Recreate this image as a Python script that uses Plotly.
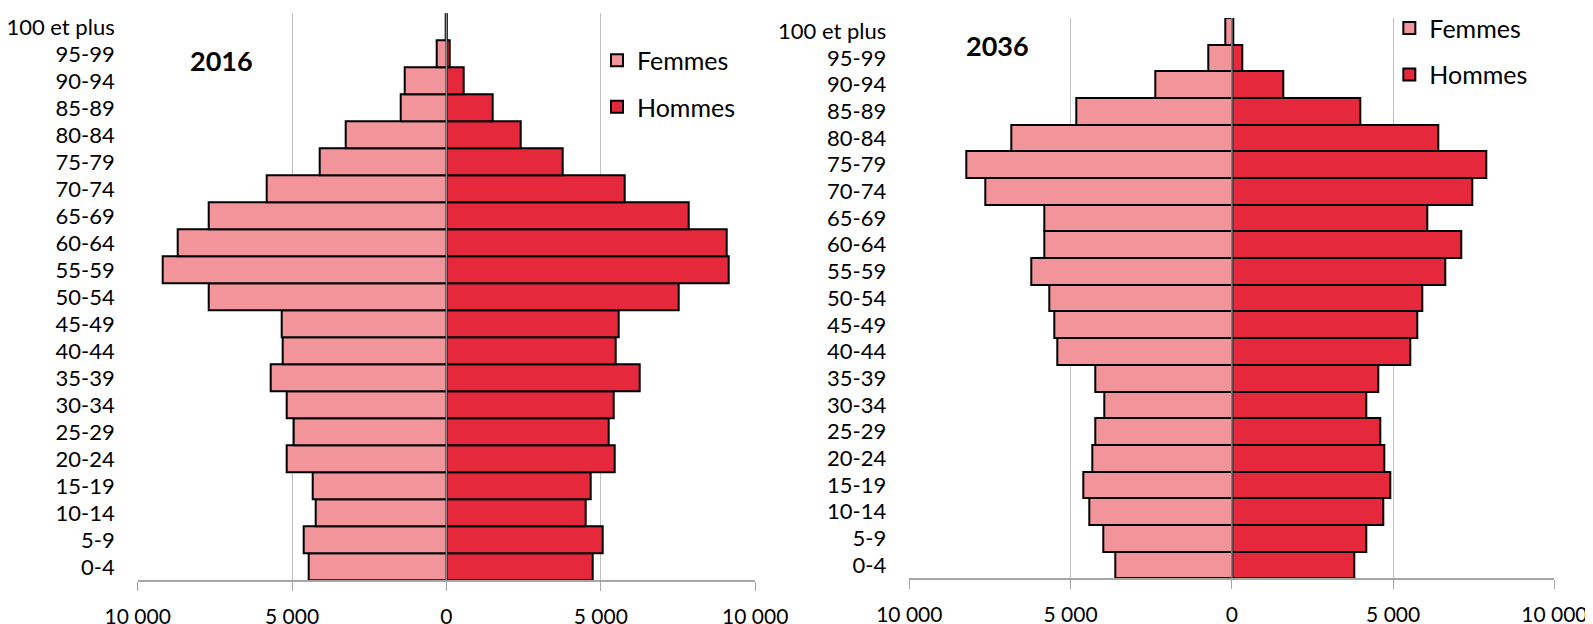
import plotly.graph_objects as go

ages = ["0-4", "5-9", "10-14", "15-19", "20-24", "25-29", "30-34", "35-39", "40-44",
        "45-49", "50-54", "55-59", "60-64", "65-69", "70-74", "75-79", "80-84",
        "85-89", "90-94", "95-99", "100 et plus"]

femmes_2016 = [4470, 4620, 4250, 4340, 5170, 4950, 5160, 5690, 5300, 5330, 7700,
               9200, 8700, 7690, 5830, 4120, 3250, 1480, 1360, 310, 30]
hommes_2016 = [4730, 5050, 4500, 4660, 5440, 5270, 5420, 6270, 5480, 5590, 7520,
               9130, 9090, 7840, 5770, 3780, 2410, 1500, 560, 100, 20]

femmes_2036 = [3620, 3990, 4430, 4610, 4330, 4220, 3950, 4230, 5400, 5500, 5650,
               6210, 5800, 5820, 7640, 8220, 6840, 4810, 2370, 720, 190]
hommes_2036 = [3790, 4170, 4700, 4910, 4730, 4610, 4170, 4530, 5520, 5750, 5900,
               6610, 7100, 6060, 7460, 7880, 6410, 3990, 1580, 330, 30]

tick_vals = [-10000, -5000, 0, 5000, 10000]
tick_text = ["10 000", "5 000", "0", "5 000", "10 000"]
years = ["2016", "2036"]

C_F = "#F1959B"
C_H = "#E6283C"
FONT = "Lato"
W, H = 1585, 616

fig = go.Figure()

def add_pair(fem, hom, xa, ya, leg):
    fig.add_trace(go.Bar(y=ages, x=[-v for v in fem], orientation="h", name="Femmes",
                         marker=dict(color=C_F, line=dict(color="black", width=2)),
                         xaxis=xa, yaxis=ya, legend=leg, legendgroup=leg + "f"))
    fig.add_trace(go.Bar(y=ages, x=hom, orientation="h", name="Hommes",
                         marker=dict(color=C_H, line=dict(color="black", width=2)),
                         xaxis=xa, yaxis=ya, legend=leg, legendgroup=leg + "h"))

add_pair(femmes_2016, hommes_2016, "x", "y", "legend")
add_pair(femmes_2036, hommes_2036, "x2", "y2", "legend2")

xcommon = dict(range=[-10000, 10000], tickvals=tick_vals, ticktext=tick_text,
               showgrid=True, gridcolor="#BFBFBF", gridwidth=1, zeroline=False,
               showline=True, linecolor="#A6A6A6", linewidth=1.5,
               ticks="outside", ticklen=9, tickcolor="#A6A6A6",
               ticklabelstandoff=8, automargin=False,
               tickfont=dict(family=FONT, size=21, color="black"), fixedrange=True)
ycommon = dict(type="category", categoryorder="array", categoryarray=ages,
               range=[-0.5, 20.5], showgrid=False, zeroline=False, showline=False,
               ticks="", ticklabelstandoff=22, automargin=False,
               tickfont=dict(family=FONT, size=22, color="black"), fixedrange=True)

fig.update_layout(
    template="none",
    width=W, height=H,
    margin=dict(l=0, r=0, t=0, b=0, autoexpand=False),
    paper_bgcolor="white", plot_bgcolor="white",
    barmode="relative", bargap=0,
    font=dict(family=FONT, size=22, color="black"),
    xaxis=dict(domain=[0.08183, 0.47142], anchor="y", **xcommon),
    yaxis=dict(domain=[0.07062, 0.99140], anchor="x", **ycommon),
    xaxis2=dict(domain=[0.56864, 0.97565], anchor="y2", **xcommon),
    yaxis2=dict(domain=[0.07419, 0.98377], anchor="x2", **ycommon),
    legend=dict(x=0.3716, y=0.9520, xanchor="left", yanchor="top",
                font=dict(family=FONT, size=25, color="black"),
                tracegroupgap=11, traceorder="grouped", bgcolor="rgba(0,0,0,0)",
                itemwidth=30),
    legend2=dict(x=0.8715, y=1.0045, xanchor="left", yanchor="top",
                 font=dict(family=FONT, size=25, color="black"),
                 tracegroupgap=11, traceorder="grouped", bgcolor="rgba(0,0,0,0)",
                 itemwidth=30),
    showlegend=True,
)

for xr, yr in [("x", "y"), ("x2", "y2")]:
    fig.add_shape(type="line", xref=xr, yref=yr + " domain", x0=0, x1=0, y0=0, y1=1,
                  line=dict(color="#8C8C8C", width=1.5), layer="above")

fig.add_annotation(text="<b>" + years[0] + "</b>", xref="paper", yref="paper",
                   x=0.1350, y=0.9140, xanchor="center", yanchor="middle",
                   showarrow=False, font=dict(family=FONT, size=27, color="black"))
fig.add_annotation(text="<b>" + years[1] + "</b>", xref="paper", yref="paper",
                   x=0.6246, y=0.9399, xanchor="center", yanchor="middle",
                   showarrow=False, font=dict(family=FONT, size=27, color="black"))

fig.write_html("out.html")
